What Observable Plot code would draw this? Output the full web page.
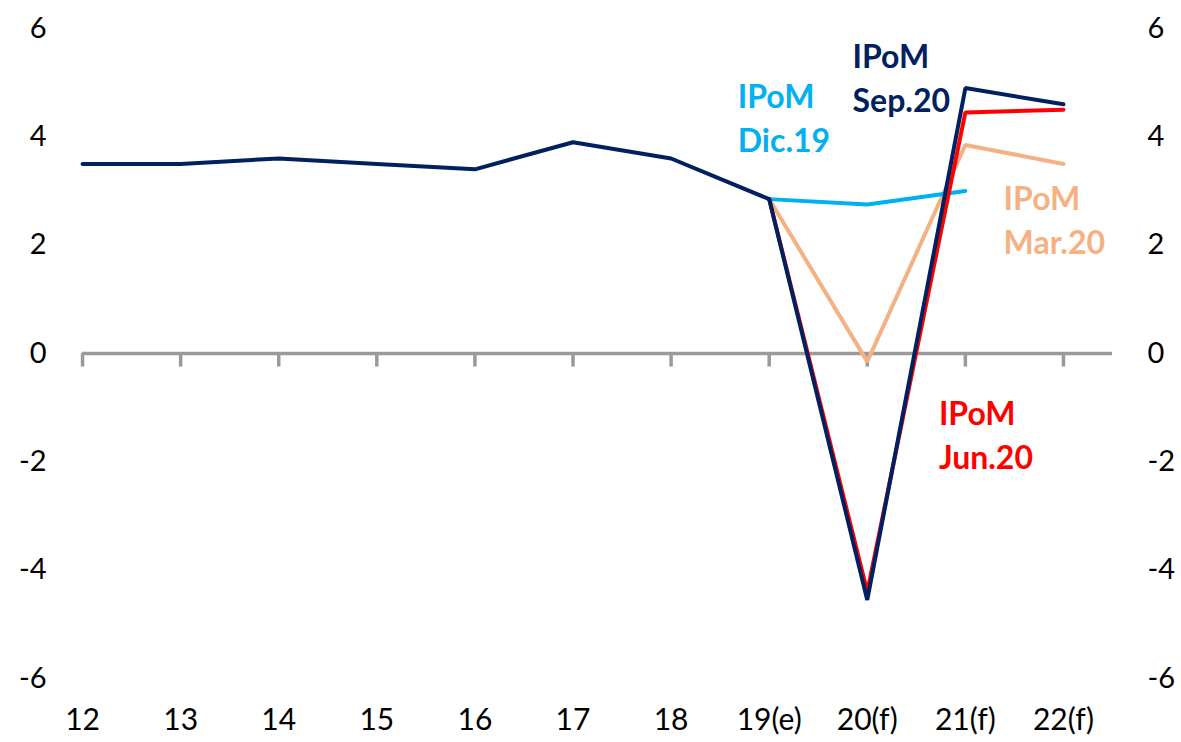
<!DOCTYPE html>
<html>
<head>
<meta charset="utf-8">
<script src="https://cdn.jsdelivr.net/npm/d3@7"></script>
<script src="https://cdn.jsdelivr.net/npm/@observablehq/plot@0.6"></script>
<style>
  html, body { margin: 0; padding: 0; background: #fff; }
  #chart svg { display: block; }
</style>
</head>
<body>
<div id="chart"></div>
<script>
// Categories (x axis)
const categories = ["12", "13", "14", "15", "16", "17", "18", "19(e)", "20(f)", "21(f)", "22(f)"];
// Historical series (12 .. 19(e))
const history = [3.5, 3.5, 3.6, 3.5, 3.4, 3.9, 3.6, 2.85];
// Forecast series start at 19(e)
const forecastStart = 7;
const dic19 = [2.85, 2.75, 3.0];
const mar20 = [2.85, -0.15, 3.85, 3.5];
const jun20 = [2.85, -4.4, 4.45, 4.5];
const sep20 = [2.85, -4.55, 4.9, 4.6];
// Y tick labels
const yTicks = [-6, -4, -2, 0, 2, 4, 6];
// Annotations
const labelTexts = ["IPoM\nDic.19", "IPoM\nSep.20", "IPoM\nMar.20", "IPoM\nJun.20"];
const labelX = [6.68, 7.85, 9.39, 8.73];
const labelY = [4.39, 5.13, 2.5, -1.47];
const labelColors = ["#00B0F0", "#002060", "#F4B183", "#FF0000"];

const NAVY = "#002060", BLUE = "#00B0F0", PEACH = "#F4B183", RED = "#FF0000", GRAY = "#9a9a9a";

const toRows = (vals, start) => vals.map((v, k) => ({i: start + k, v}));
const idx = d3.range(categories.length);
const annotations = labelTexts.map((t, k) => ({t, x: labelX[k], y: labelY[k], c: labelColors[k]}));

const lineOpts = (color) => ({x: "i", y: "v", stroke: color, strokeWidth: 4, strokeLinejoin: "miter", strokeLinecap: "round"});

const chart = Plot.plot({
  width: 1181,
  height: 742,
  marginLeft: 33,
  marginRight: 69,
  marginTop: 28,
  marginBottom: 64,
  style: {fontFamily: "Lato, 'Noto Sans', sans-serif", fontSize: "29px", color: "#000", background: "#fff"},
  x: {type: "linear", domain: [-0.5, categories.length - 0.5]},
  y: {domain: [-6, 6]},
  marks: [
    Plot.ruleY([0], {x1: 0, x2: categories.length - 0.5, stroke: GRAY, strokeWidth: 3.5}),
    Plot.ruleX(idx, {x: d => d, y1: 0, y2: -0.25, stroke: GRAY, strokeWidth: 3.5}),
    Plot.axisY(yTicks, {anchor: "left", tickSize: 0, tickPadding: 0, dx: 13, tickFormat: d => String(d), fontSize: 29}),
    Plot.axisY(yTicks, {anchor: "right", tickSize: 0, tickPadding: 35, tickFormat: d => String(d), fontSize: 29}),
    Plot.axisX(idx, {anchor: "bottom", tickSize: 0, tickPadding: 30, tickFormat: i => categories[i], fontSize: 30}),
    Plot.line(toRows(mar20, forecastStart), lineOpts(PEACH)),
    Plot.line(toRows(dic19, forecastStart), lineOpts(BLUE)),
    Plot.line(toRows(jun20, forecastStart), lineOpts(RED)),
    Plot.line(toRows(sep20, forecastStart), lineOpts(NAVY)),
    Plot.line(toRows(history, 0), lineOpts(NAVY)),
    Plot.text(annotations, {x: "x", y: "y", text: "t", fill: "c", textAnchor: "start", lineAnchor: "middle", lineHeight: 1.38, fontSize: 32, fontWeight: "bold"})
  ]
});
document.getElementById("chart").appendChild(chart);
</script>
</body>
</html>
